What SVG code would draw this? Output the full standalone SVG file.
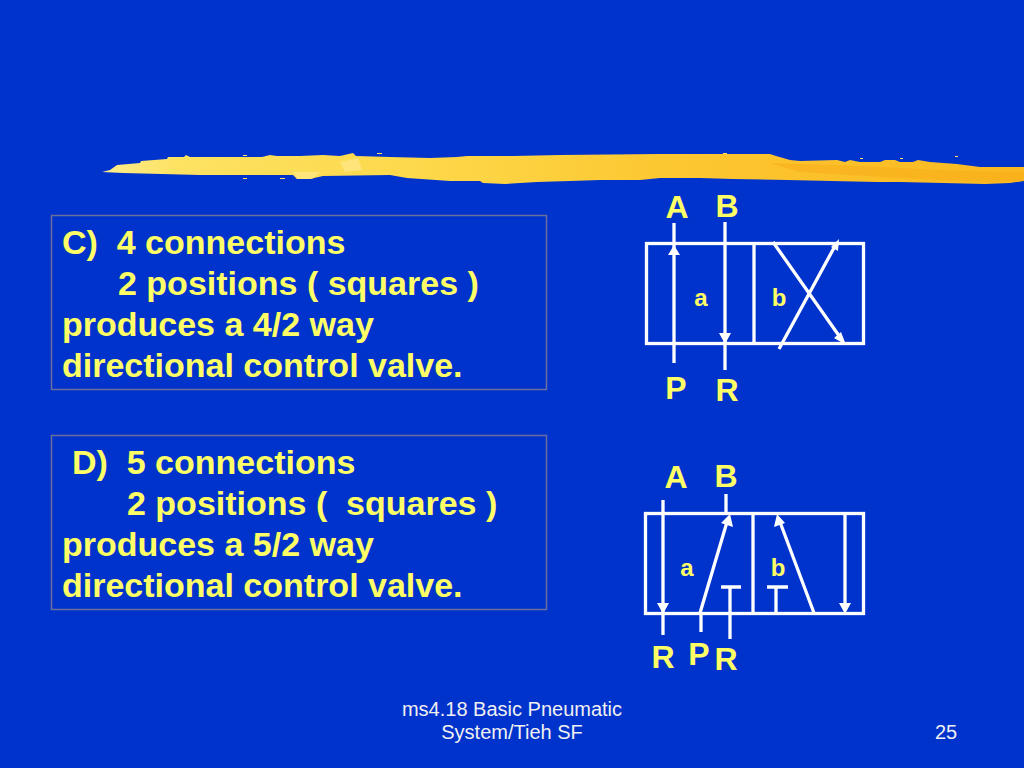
<svg xmlns="http://www.w3.org/2000/svg" width="1024" height="768" viewBox="0 0 1024 768">
<defs>
<linearGradient id="brushFill" x1="102" y1="0" x2="1024" y2="0" gradientUnits="userSpaceOnUse">
<stop offset="0" stop-color="#ffec8c"/>
<stop offset="0.08" stop-color="#fde263"/>
<stop offset="0.35" stop-color="#fdd84a"/>
<stop offset="0.6" stop-color="#fcc832"/>
<stop offset="1" stop-color="#fbb820"/>
</linearGradient>
</defs>
<style>
text{font-family:"Liberation Sans",Arial,sans-serif}
.t{font-size:34px;font-weight:700;fill:#ffff66}
.l{font-size:32px;font-weight:700;fill:#ffff66}
.s{font-size:24px;font-weight:700;fill:#ffff66}
.f{font-size:20px;fill:#f0f0f0}
.box{fill:none;stroke:#6a6f9c;stroke-width:1.500}
.w{fill:none;stroke:#fff;stroke-width:3.300}
.h{fill:#fff}
</style>
<rect width="1024" height="768" fill="#0033cc"/>
<g id="brush">
<path fill="url(#brushFill)" d="M102 172L110 170L117 165L140 163L141 161L167 159L168 157L184 157L186 155L190 157L210 157L240 157L262 157L270 155L277 156L300 156L323 155L340 156L353 153L356 156L390 157L430 158L457 157L467 156L513 156L560 155L660 154L770 154L776 156L783 158L790 160L800 161L837 160L845 162L850 160L860 162L880 162L885 160L895 160L900 162L913 162L918 160L930 162L957 164L980 167L1024 167V181L1010 183L985 184L943 183L900 182L877 182L787 180L733 179L700 178L660 178L640 180L600 180L570 181L537 182L520 183L505 184L483 183L480 181L450 181L407 178L390 175L323 176L310 179L297 179L293 175L240 175L200 175L123 173Z"/>
<path fill="#f7ad1a" opacity=".55" d="M770 163L860 166L960 171L1024 172V181L985 182L900 178L800 172Z"/>
<path fill="#ffe98a" opacity=".7" d="M340 162L358 158L362 170L345 172ZM293 172L320 172L312 179L297 179Z"/>
<path fill="#fde068" d="M243 155h4v1h-4ZM243 178h4v1h-4ZM280 178h5v1h-5ZM377 153h5v1h-5ZM723 153h4v1h-4ZM860 158h3v1h-3ZM900 158h3v1h-3ZM955 156h3v1h-3Z"/>
</g>
<g id="box-c">
<rect class="box" x="51.500" y="215.500" width="495" height="174"/>
<text class="t" x="62" y="254" xml:space="preserve">C)  4 connections</text>
<text class="t" x="118" y="295">2 positions ( squares )</text>
<text class="t" x="62" y="336">produces a 4/2 way</text>
<text class="t" x="62" y="377">directional control valve.</text>
</g>
<g id="box-d">
<rect class="box" x="51.500" y="435.500" width="495" height="174"/>
<text class="t" x="72" y="474" xml:space="preserve">D)  5 connections</text>
<text class="t" x="127" y="515" xml:space="preserve">2 positions (  squares )</text>
<text class="t" x="62" y="556">produces a 5/2 way</text>
<text class="t" x="62" y="597">directional control valve.</text>
</g>
<g id="valve-42">
<rect class="w" x="646.500" y="243.500" width="217" height="100"/>
<path class="w" d="M754 243V344"/>
<text class="l" x="677" y="218" text-anchor="middle">A</text>
<text class="l" x="727" y="217" text-anchor="middle">B</text>
<text class="l" x="676" y="399" text-anchor="middle">P</text>
<text class="l" x="727" y="401" text-anchor="middle">R</text>
<text class="s" x="701" y="306" text-anchor="middle">a</text>
<text class="s" x="779" y="306" text-anchor="middle">b</text>
</g>
<g id="valve-52">
<rect class="w" x="645.500" y="513.500" width="218" height="100"/>
<path class="w" d="M753 513V613"/>
<text class="l" x="676" y="488" text-anchor="middle">A</text>
<text class="l" x="726" y="487" text-anchor="middle">B</text>
<text class="l" x="663" y="668" text-anchor="middle">R</text>
<text class="l" x="699" y="665" text-anchor="middle">P</text>
<text class="l" x="726" y="670" text-anchor="middle">R</text>
<text class="s" x="687" y="576" text-anchor="middle">a</text>
<text class="s" x="778" y="576" text-anchor="middle">b</text>
</g>
<g id="connectors">
<path class="w" d="M674 363V223M725 222V370"/>
<path class="h" d="M674 245L680 255H668ZM725 344L719 333H731Z"/>
<path class="w" d="M773 242L842 340M779 349L835 246"/>
<path class="h" d="M846 345L834 338L841 332ZM839 239L838 251L831 247Z"/>
<path class="w" d="M663 500V635M726 494V513M701 613V632M700 613L727 522"/>
<path class="h" d="M663 614L657 603H669ZM730 514L733 527L721 523Z"/>
<path class="w" d="M730 587V639M721 587H741M776 587V613M767 587H788M814 613L780 522M845 513V606"/>
<path class="h" d="M777 514L785 523L774 527ZM845 614L839 603H851Z"/>
</g>
<g id="footer">
<text class="f" x="512" y="716" text-anchor="middle">ms4.18 Basic Pneumatic</text>
<text class="f" x="512" y="739" text-anchor="middle">System/Tieh SF</text>
<text class="f" x="946" y="739" text-anchor="middle">25</text>
</g>
</svg>
